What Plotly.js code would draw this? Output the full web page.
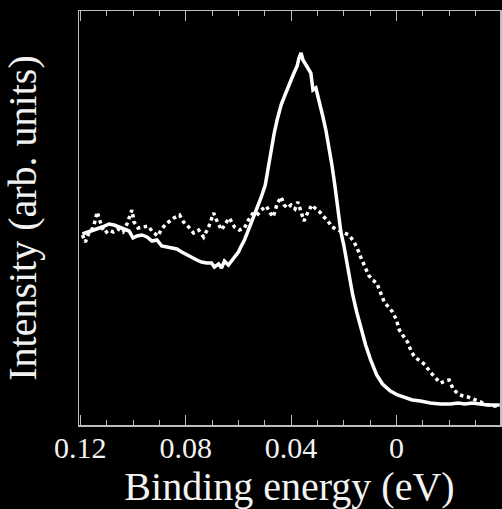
<!DOCTYPE html>
<html>
<head>
<meta charset="utf-8">
<script src="https://cdn.plot.ly/plotly-3.0.1.min.js"></script>
<style>html,body{margin:0;padding:0;background:#000;}#chart{width:502px;height:509px;}</style>
</head>
<body>
<div id="chart"></div>
<script>
// Solid curve: binding energy (eV) and intensity (arb. units)
const solidEnergy = [0.1192,0.1170,0.1143,0.1117,0.1091,0.1072,0.1053,0.1034,0.1015,0.1000,0.0985,0.0966,0.0947,0.0928,0.0909,0.0891,0.0872,0.0853,0.0834,0.0815,0.0796,0.0777,0.0758,0.0740,0.0721,0.0702,0.0691,0.0675,0.0664,0.0653,0.0638,0.0626,0.0611,0.0600,0.0589,0.0577,0.0562,0.0551,0.0540,0.0525,0.0513,0.0498,0.0487,0.0475,0.0464,0.0453,0.0438,0.0423,0.0411,0.0400,0.0389,0.0377,0.0370,0.0362,0.0355,0.0343,0.0332,0.0325,0.0317,0.0306,0.0294,0.0279,0.0268,0.0257,0.0245,0.0234,0.0223,0.0211,0.0200,0.0189,0.0177,0.0166,0.0151,0.0136,0.0117,0.0098,0.0075,0.0053,0.0023,-0.0004,-0.0030,-0.0060,-0.0091,-0.0128,-0.0166,-0.0204,-0.0234,-0.0260,-0.0287,-0.0317,-0.0347,-0.0374,-0.0392];
const solidIntensity = [191,193,195,198,201,200,198,196,194,187,189,190,188,184,185,179,178,177,176,173,170,168,165,163,162,162,158,161,157,164,160,164,169,173,179,185,195,202,211,220,228,240,258,275,292,305,320,330,337,345,352,359,367,372,365,359,355,352,335,337,325,308,295,280,260,240,215,193,180,163,145,130,113,98,80,65,50,41,34,30,28,25,24,22,21,21,22,21,22,21,20,20,20];

// Dotted curve
const dottedEnergy = [0.1192,0.1181,0.1166,0.1151,0.1136,0.1128,0.1117,0.1106,0.1091,0.1075,0.1057,0.1038,0.1023,0.1004,0.0996,0.0981,0.0962,0.0943,0.0925,0.0906,0.0891,0.0875,0.0860,0.0845,0.0823,0.0808,0.0789,0.0770,0.0751,0.0732,0.0713,0.0694,0.0683,0.0664,0.0645,0.0634,0.0615,0.0596,0.0577,0.0562,0.0547,0.0532,0.0513,0.0494,0.0479,0.0468,0.0453,0.0438,0.0426,0.0415,0.0400,0.0385,0.0374,0.0362,0.0351,0.0336,0.0321,0.0306,0.0291,0.0275,0.0260,0.0245,0.0230,0.0211,0.0196,0.0181,0.0166,0.0151,0.0136,0.0121,0.0106,0.0091,0.0075,0.0060,0.0045,0.0030,0.0015,0.0000,-0.0011,-0.0026,-0.0042,-0.0057,-0.0072,-0.0091,-0.0109,-0.0128,-0.0147,-0.0166,-0.0185,-0.0200,-0.0215,-0.0234,-0.0253,-0.0272,-0.0291,-0.0309,-0.0328,-0.0347,-0.0370,-0.0389];
const dottedIntensity = [190,183,193,197,213,205,197,192,195,193,196,193,201,215,203,197,198,199,193,189,196,201,204,207,210,203,198,192,195,188,198,212,205,195,203,207,198,195,197,205,211,209,215,219,212,208,221,228,220,217,220,216,223,213,204,213,220,216,213,208,204,198,196,194,192,190,185,178,168,159,150,145,142,132,122,118,113,105,95,89,83,73,67,64,60,53,47,42,44,45,36,31,29,28,26,24,22,20,19,19];

const xTickVals = [0.12, 0.08, 0.04, 0];
const xTickText = ['0.12', '0.08', '0.04', '0'];

const serif = 'Liberation Serif, Times New Roman, serif';

const traces = [
  {x: solidEnergy, y: solidIntensity, type: 'scatter', mode: 'lines',
   line: {color: '#ffffff', width: 3.5}, hoverinfo: 'skip'},
  {x: dottedEnergy, y: dottedIntensity, type: 'scatter', mode: 'lines',
   line: {color: '#ffffff', width: 3.5, dash: 'dot'}, hoverinfo: 'skip'}
];

const layout = {
  width: 502, height: 509,
  paper_bgcolor: '#000000', plot_bgcolor: '#000000',
  margin: {l: 79, r: 2, t: 11, b: 84},
  showlegend: false,
  font: {family: serif, color: '#f2f2f2'},
  xaxis: {
    range: [0.1205, -0.0393], autorange: false,
    tickvals: xTickVals, ticktext: xTickText,
    ticks: 'inside', ticklen: 10, tickwidth: 1, tickcolor: '#bdbdbd',
    minor: {dtick: 0.01, tick0: 0, ticks: 'inside', ticklen: 5, tickwidth: 1, tickcolor: '#bdbdbd', showgrid: false},
    showline: true, linecolor: '#bdbdbd', linewidth: 1.5, mirror: 'ticks',
    showgrid: false, zeroline: false,
    tickfont: {family: serif, size: 30, color: '#f2f2f2'},
    ticklabelstandoff: -5,
    title: {text: 'Binding energy (eV)', font: {family: serif, size: 40, color: '#f2f2f2'}, standoff: 0},
    automargin: false
  },
  yaxis: {
    range: [0, 414], autorange: false,
    showticklabels: false, ticks: '',
    showline: true, linecolor: '#bdbdbd', linewidth: 1.5, mirror: true,
    showgrid: false, zeroline: false,
    title: {text: 'Intensity (arb. units)', font: {family: serif, size: 40, color: '#f2f2f2'}, standoff: 30},
    automargin: false
  }
};

Plotly.newPlot('chart', traces, layout, {staticPlot: true, displayModeBar: false});
</script>
</body>
</html>
